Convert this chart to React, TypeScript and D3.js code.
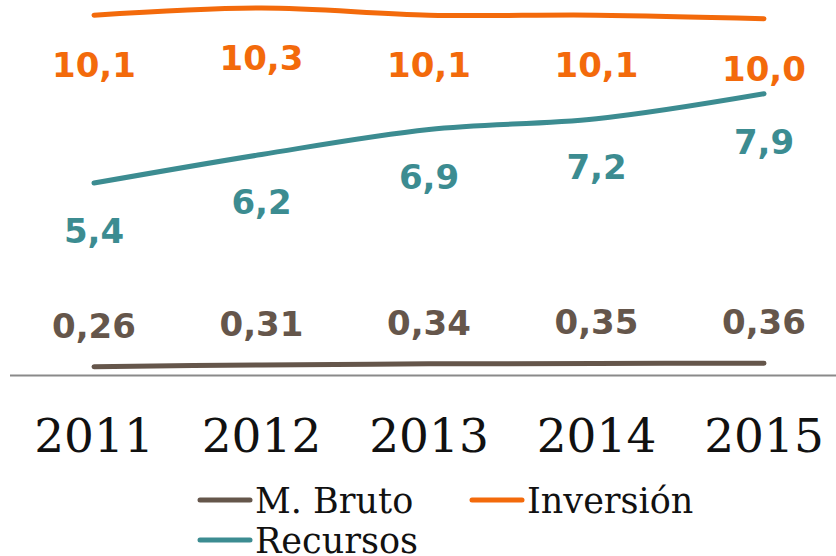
import React from "react";
import * as d3 from "d3";

const years = ["2011", "2012", "2013", "2014", "2015"];
const mBruto = [0.26, 0.31, 0.34, 0.35, 0.36];
const inversion = [10.1, 10.3, 10.1, 10.1, 10.0];
const recursos = [5.4, 6.2, 6.9, 7.2, 7.9];
const mBrutoLabels = ["0,26", "0,31", "0,34", "0,35", "0,36"];
const inversionLabels = ["10,1", "10,3", "10,1", "10,1", "10,0"];
const recursosLabels = ["5,4", "6,2", "6,9", "7,2", "7,9"];

const W = 836;
const H = 556;
const ORANGE = "#F36A0B";
const TEAL = "#3C8C91";
const BROWN = "#65564B";

export default function App() {
  const x = d3.scalePoint<string>().domain(years).range([94, 764]);
  const y = d3.scaleLinear().domain([0, 10.3]).range([376, 8]);

  const line = d3
    .line<number>()
    .x((_, i) => x(years[i]) as number)
    .y((d) => y(d))
    .curve(d3.curveCatmullRom.alpha(0.5));

  const series = [
    { values: inversion, labels: inversionLabels, color: ORANGE, dy: 62 },
    { values: recursos, labels: recursosLabels, color: TEAL, dy: 60 },
    { values: mBruto, labels: mBrutoLabels, color: BROWN, dy: -29 },
  ];

  const valueFont = "'DejaVu Sans', sans-serif";
  const serifFont = "'DejaVu Serif', serif";

  const legend = [
    { name: "M. Bruto", color: BROWN, x: 198, y: 500 },
    { name: "Inversión", color: ORANGE, x: 470, y: 500 },
    { name: "Recursos", color: TEAL, x: 198, y: 540 },
  ];

  return (
    <svg
      width={W}
      height={H}
      style={{ position: "absolute", left: 0, top: 0, background: "#fff" }}
    >
      <line x1={10} x2={836} y1={375.5} y2={375.5} stroke="#8a8a8a" strokeWidth={2} />
      {series.map((s, si) => (
        <g key={si}>
          <path
            d={line(s.values) || ""}
            fill="none"
            stroke={s.color}
            strokeWidth={5}
            strokeLinecap="round"
            strokeLinejoin="round"
          />
          {s.values.map((v, i) => (
            <text
              key={i}
              x={x(years[i])}
              y={y(v) + s.dy}
              textAnchor="middle"
              fontFamily={valueFont}
              fontWeight="bold"
              fontSize={34}
              fill={s.color}
            >
              {s.labels[i]}
            </text>
          ))}
        </g>
      ))}
      {years.map((yr) => (
        <text
          key={yr}
          x={x(yr)}
          y={452}
          textAnchor="middle"
          fontFamily={serifFont}
          fontSize={47}
          fill="#111"
        >
          {yr}
        </text>
      ))}
      {legend.map((l) => (
        <g key={l.name}>
          <line
            x1={l.x + 2}
            x2={l.x + 52}
            y1={l.y}
            y2={l.y}
            stroke={l.color}
            strokeWidth={5}
            strokeLinecap="round"
          />
          <text
            x={l.x + 57}
            y={l.y + 13}
            fontFamily={serifFont}
            fontSize={35}
            fill="#111"
          >
            {l.name}
          </text>
        </g>
      ))}
    </svg>
  );
}
